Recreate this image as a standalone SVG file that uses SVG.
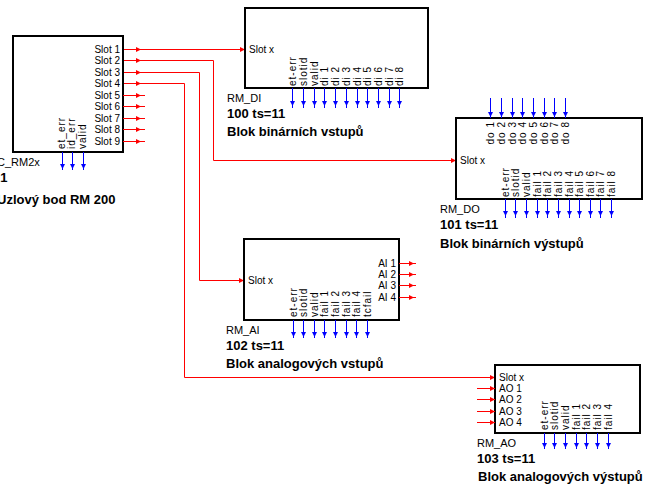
<svg xmlns="http://www.w3.org/2000/svg" xmlns:xlink="http://www.w3.org/1999/xlink" width="646" height="486" viewBox="0 0 646 486">
<style>
.box{fill:#fff;stroke:#000;stroke-width:2}
.t{font-family:"Liberation Sans",Arial,sans-serif;font-size:10px;fill:#000}
.v{font-family:"Liberation Sans",Arial,sans-serif;font-size:10px;fill:#000;letter-spacing:1px}
.n{font-family:"Liberation Sans",Arial,sans-serif;font-size:11px;fill:#000}
.b{font-family:"Liberation Sans",Arial,sans-serif;font-size:13px;font-weight:bold;fill:#000}
.r{stroke:#ff0000;stroke-width:1;fill:none}
.bl{stroke:#0000ff;stroke-width:1;fill:none}
</style>
<defs>
<path id="ar" d="M0,0 L-5,-2.5 L-5,2.5 Z" fill="#ff0000"/>
<path id="ab" d="M0,0 L-2.5,-5 L2.5,-5 Z" fill="#0000ff"/>
</defs>
<rect width="646" height="486" fill="#fff"/>

<g id="connectors">
<path class="r" d="M123,49.5 H245"/>
<path class="r" d="M123,60.5 H213.5 V160.5 H456"/>
<path class="r" d="M123,72.5 H199.5 V280.5 H244"/>
<path class="r" d="M123,83.5 H184.5 V377.5 H495"/>
<use xlink:href="#ar" x="141" y="49.5"/>
<use xlink:href="#ar" x="141" y="60.5"/>
<use xlink:href="#ar" x="141" y="72.5"/>
<use xlink:href="#ar" x="141" y="83.5"/>
<use xlink:href="#ar" x="245" y="49.5"/>
<use xlink:href="#ar" x="456" y="160.5"/>
<use xlink:href="#ar" x="244" y="280.5"/>
<use xlink:href="#ar" x="495" y="377.5"/>
</g>

<g id="node-rm2x">
<rect class="box" x="13" y="36" width="110" height="116"/>
<g class="t" text-anchor="end">
<text x="120" y="53">Slot 1</text>
<text x="120" y="64">Slot 2</text>
<text x="120" y="75.5">Slot 3</text>
<text x="120" y="87">Slot 4</text>
<text x="120" y="98.5">Slot 5</text>
<text x="120" y="110">Slot 6</text>
<text x="120" y="121.5">Slot 7</text>
<text x="120" y="133">Slot 8</text>
<text x="120" y="144.5">Slot 9</text>
</g>
<path class="r" d="M123,95.5 H145 M123,106.5 H145 M123,118.5 H145 M123,129.5 H145 M123,141.5 H145"/>
<use xlink:href="#ar" x="141" y="95.5"/>
<use xlink:href="#ar" x="141" y="106.5"/>
<use xlink:href="#ar" x="141" y="118.5"/>
<use xlink:href="#ar" x="141" y="129.5"/>
<use xlink:href="#ar" x="141" y="141.5"/>
<text class="v" transform="translate(64.5,149) rotate(-90)">et_err</text>
<text class="v" transform="translate(74.5,149) rotate(-90)">id_err</text>
<text class="v" transform="translate(85.5,149) rotate(-90)">valid</text>
<path class="bl" d="M62.5,152 V170 M72.5,152 V170 M83.5,152 V170"/>
<use xlink:href="#ab" x="62.5" y="169"/>
<use xlink:href="#ab" x="72.5" y="169"/>
<use xlink:href="#ab" x="83.5" y="169"/>
<text class="n" x="-3" y="166">C_RM2x</text>
<text class="b" x="-7" y="182">21</text>
<text class="b" x="-3" y="204">Uzlový bod RM 200</text>
</g>

<g id="node-rm-di">
<rect class="box" x="245" y="8" width="183" height="80"/>
<text class="t" x="249" y="53">Slot x</text>
<text class="v" transform="translate(295.5,86) rotate(-90)">et-err</text>
<text class="v" transform="translate(306.5,86) rotate(-90)">slotid</text>
<text class="v" transform="translate(317.5,86) rotate(-90)">valid</text>
<text class="v" transform="translate(327.5,86) rotate(-90)">di 1</text>
<text class="v" transform="translate(338.5,86) rotate(-90)">di 2</text>
<text class="v" transform="translate(349.5,86) rotate(-90)">di 3</text>
<text class="v" transform="translate(360.5,86) rotate(-90)">di 4</text>
<text class="v" transform="translate(370.5,86) rotate(-90)">di 5</text>
<text class="v" transform="translate(381.5,86) rotate(-90)">di 6</text>
<text class="v" transform="translate(392.5,86) rotate(-90)">di 7</text>
<text class="v" transform="translate(402.5,86) rotate(-90)">di 8</text>
<path class="bl" d="M292.5,88 V108 M303.5,88 V108 M314.5,88 V108 M324.5,88 V108 M335.5,88 V108 M346.5,88 V108 M357.5,88 V108 M367.5,88 V108 M378.5,88 V108 M389.5,88 V108 M399.5,88 V108"/>
<use xlink:href="#ab" x="292.5" y="106"/>
<use xlink:href="#ab" x="303.5" y="106"/>
<use xlink:href="#ab" x="314.5" y="106"/>
<use xlink:href="#ab" x="324.5" y="106"/>
<use xlink:href="#ab" x="335.5" y="106"/>
<use xlink:href="#ab" x="346.5" y="106"/>
<use xlink:href="#ab" x="357.5" y="106"/>
<use xlink:href="#ab" x="367.5" y="106"/>
<use xlink:href="#ab" x="378.5" y="106"/>
<use xlink:href="#ab" x="389.5" y="106"/>
<use xlink:href="#ab" x="399.5" y="106"/>
<text class="n" x="227" y="102">RM_DI</text>
<text class="b" x="227" y="118">100 ts=11</text>
<text class="b" x="227" y="136">Blok binárních vstupů</text>
</g>

<g id="node-rm-do">
<rect class="box" x="456" y="118" width="186" height="81"/>
<text class="t" x="460" y="164">Slot x</text>
<path class="bl" d="M490.5,98 V118 M501.5,98 V118 M512.5,98 V118 M522.5,98 V118 M533.5,98 V118 M544.5,98 V118 M554.5,98 V118 M565.5,98 V118"/>
<use xlink:href="#ab" x="490.5" y="117"/>
<use xlink:href="#ab" x="501.5" y="117"/>
<use xlink:href="#ab" x="512.5" y="117"/>
<use xlink:href="#ab" x="522.5" y="117"/>
<use xlink:href="#ab" x="533.5" y="117"/>
<use xlink:href="#ab" x="544.5" y="117"/>
<use xlink:href="#ab" x="554.5" y="117"/>
<use xlink:href="#ab" x="565.5" y="117"/>
<g text-anchor="end">
<text class="v" transform="translate(493.5,121) rotate(-90)">do  1</text>
<text class="v" transform="translate(504.5,121) rotate(-90)">do  2</text>
<text class="v" transform="translate(515.5,121) rotate(-90)">do  3</text>
<text class="v" transform="translate(525.5,121) rotate(-90)">do  4</text>
<text class="v" transform="translate(536.5,121) rotate(-90)">do  5</text>
<text class="v" transform="translate(547.5,121) rotate(-90)">do  6</text>
<text class="v" transform="translate(557.5,121) rotate(-90)">do  7</text>
<text class="v" transform="translate(568.5,121) rotate(-90)">do  8</text>
</g>
<text class="v" transform="translate(508.5,197) rotate(-90)">et-err</text>
<text class="v" transform="translate(518.5,197) rotate(-90)">slotid</text>
<text class="v" transform="translate(529.5,197) rotate(-90)">valid</text>
<text class="v" transform="translate(540.5,197) rotate(-90)">fail 1</text>
<text class="v" transform="translate(550.5,197) rotate(-90)">fail 2</text>
<text class="v" transform="translate(561.5,197) rotate(-90)">fail 3</text>
<text class="v" transform="translate(572.5,197) rotate(-90)">fail 4</text>
<text class="v" transform="translate(582.5,197) rotate(-90)">fail 5</text>
<text class="v" transform="translate(593.5,197) rotate(-90)">fail 6</text>
<text class="v" transform="translate(603.5,197) rotate(-90)">fail 7</text>
<text class="v" transform="translate(614.5,197) rotate(-90)">fail 8</text>
<path class="bl" d="M505.5,199 V218 M515.5,199 V218 M526.5,199 V218 M537.5,199 V218 M547.5,199 V218 M558.5,199 V218 M569.5,199 V218 M579.5,199 V218 M590.5,199 V218 M600.5,199 V218 M611.5,199 V218"/>
<use xlink:href="#ab" x="505.5" y="216"/>
<use xlink:href="#ab" x="515.5" y="216"/>
<use xlink:href="#ab" x="526.5" y="216"/>
<use xlink:href="#ab" x="537.5" y="216"/>
<use xlink:href="#ab" x="547.5" y="216"/>
<use xlink:href="#ab" x="558.5" y="216"/>
<use xlink:href="#ab" x="569.5" y="216"/>
<use xlink:href="#ab" x="579.5" y="216"/>
<use xlink:href="#ab" x="590.5" y="216"/>
<use xlink:href="#ab" x="600.5" y="216"/>
<use xlink:href="#ab" x="611.5" y="216"/>
<text class="n" x="440" y="213">RM_DO</text>
<text class="b" x="440" y="229">101 ts=11</text>
<text class="b" x="440" y="248">Blok binárních výstupů</text>
</g>

<g id="node-rm-ai">
<rect class="box" x="244" y="239" width="155" height="81"/>
<text class="t" x="248" y="284">Slot x</text>
<g class="t" text-anchor="end">
<text x="396" y="266.5">AI 1</text>
<text x="396" y="277.5">AI 2</text>
<text x="396" y="288.5">AI 3</text>
<text x="396" y="300.5">AI 4</text>
</g>
<path class="r" d="M399,263.5 H416 M399,274.5 H416 M399,285.5 H416 M399,297.5 H416"/>
<use xlink:href="#ar" x="414" y="263.5"/>
<use xlink:href="#ar" x="414" y="274.5"/>
<use xlink:href="#ar" x="414" y="285.5"/>
<use xlink:href="#ar" x="414" y="297.5"/>
<text class="v" transform="translate(296.5,317) rotate(-90)">et-err</text>
<text class="v" transform="translate(306.5,317) rotate(-90)">slotid</text>
<text class="v" transform="translate(317.5,317) rotate(-90)">valid</text>
<text class="v" transform="translate(327.5,317) rotate(-90)">fail 1</text>
<text class="v" transform="translate(338.5,317) rotate(-90)">fail 2</text>
<text class="v" transform="translate(349.5,317) rotate(-90)">fail 3</text>
<text class="v" transform="translate(359.5,317) rotate(-90)">fail 4</text>
<text class="v" transform="translate(370.5,317) rotate(-90)">tcfail</text>
<path class="bl" d="M293.5,320 V338 M303.5,320 V338 M314.5,320 V338 M324.5,320 V338 M335.5,320 V338 M346.5,320 V338 M356.5,320 V338 M367.5,320 V338"/>
<use xlink:href="#ab" x="293.5" y="337"/>
<use xlink:href="#ab" x="303.5" y="337"/>
<use xlink:href="#ab" x="314.5" y="337"/>
<use xlink:href="#ab" x="324.5" y="337"/>
<use xlink:href="#ab" x="335.5" y="337"/>
<use xlink:href="#ab" x="346.5" y="337"/>
<use xlink:href="#ab" x="356.5" y="337"/>
<use xlink:href="#ab" x="367.5" y="337"/>
<text class="n" x="226" y="334">RM_AI</text>
<text class="b" x="226" y="350">102 ts=11</text>
<text class="b" x="226" y="368">Blok analogových vstupů</text>
</g>

<g id="node-rm-ao">
<rect class="box" x="495" y="365" width="145" height="68"/>
<text class="t" x="499" y="381">Slot x</text>
<g class="t">
<text x="499" y="391.5">AO 1</text>
<text x="499" y="402.5">AO 2</text>
<text x="499" y="414.5">AO 3</text>
<text x="499" y="425.5">AO 4</text>
</g>
<path class="r" d="M477,388.5 H495 M477,399.5 H495 M477,411.5 H495 M477,422.5 H495"/>
<use xlink:href="#ar" x="495" y="388.5"/>
<use xlink:href="#ar" x="495" y="399.5"/>
<use xlink:href="#ar" x="495" y="411.5"/>
<use xlink:href="#ar" x="495" y="422.5"/>
<text class="v" transform="translate(547.5,430) rotate(-90)">et-err</text>
<text class="v" transform="translate(557.5,430) rotate(-90)">slotid</text>
<text class="v" transform="translate(568.5,430) rotate(-90)">valid</text>
<text class="v" transform="translate(579.5,430) rotate(-90)">fail 1</text>
<text class="v" transform="translate(589.5,430) rotate(-90)">fail 2</text>
<text class="v" transform="translate(600.5,430) rotate(-90)">fail 3</text>
<text class="v" transform="translate(611.5,430) rotate(-90)">fail 4</text>
<path class="bl" d="M544.5,433 V449 M554.5,433 V449 M565.5,433 V449 M576.5,433 V449 M586.5,433 V449 M597.5,433 V449 M608.5,433 V449"/>
<use xlink:href="#ab" x="544.5" y="448"/>
<use xlink:href="#ab" x="554.5" y="448"/>
<use xlink:href="#ab" x="565.5" y="448"/>
<use xlink:href="#ab" x="576.5" y="448"/>
<use xlink:href="#ab" x="586.5" y="448"/>
<use xlink:href="#ab" x="597.5" y="448"/>
<use xlink:href="#ab" x="608.5" y="448"/>
<text class="n" x="477" y="447">RM_AO</text>
<text class="b" x="477" y="463">103 ts=11</text>
<text class="b" x="478" y="481">Blok analogových výstupů</text>
</g>
</svg>
